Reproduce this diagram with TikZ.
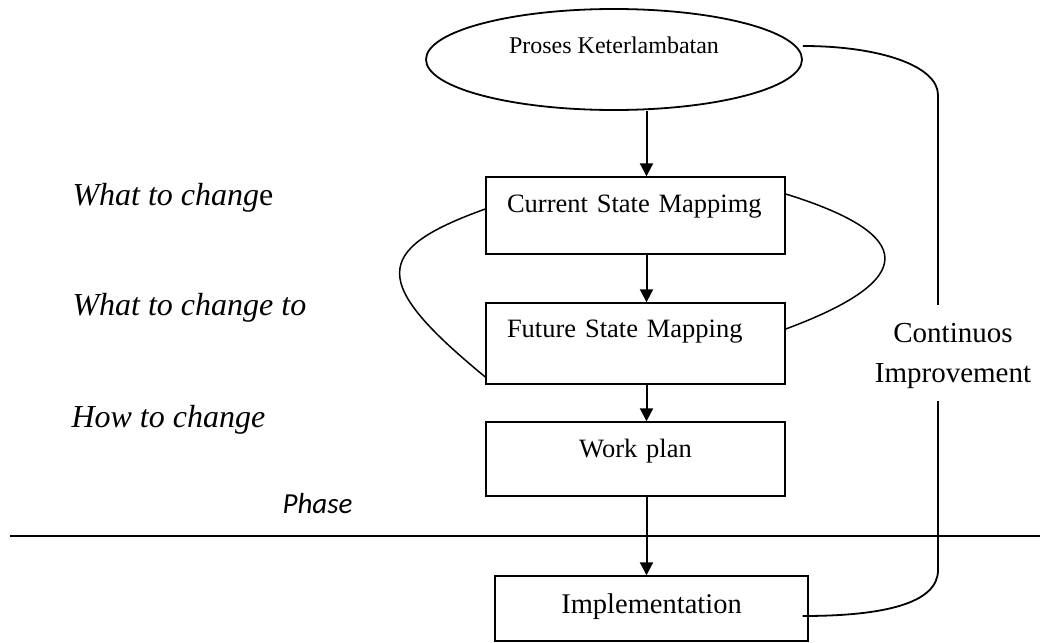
\documentclass[tikz,border=0pt]{standalone}
\usepackage{fontspec}
\setmainfont{Liberation Serif}
\newfontfamily\phasefont{Carlito}
\usetikzlibrary{shapes.geometric,arrows.meta,calc}

\tikzset{
  stage/.style={draw, line width=1.4pt, rectangle, inner ysep=0pt},
  leftstage/.style={stage, inner xsep=21pt, align=left},
  midstage/.style={stage, inner xsep=0pt, align=center},
  flow/.style={line width=2pt, -{Triangle[length=13pt,width=13pt]}},
  loopline/.style={line width=1.5pt},
  cycleline/.style={line width=1.8pt},
  question/.style={anchor=base west, font=\fontsize{32}{36}\selectfont\itshape},
}

\begin{document}
\begin{tikzpicture}[x=1pt, y=-1pt]
  \useasboundingbox (0,0) rectangle (1040,642);

  % start of the process
  \node[draw, ellipse, line width=1.8pt, inner sep=0pt,
        minimum width=376pt, minimum height=101pt,
        text height=20pt, text depth=31pt,
        font=\fontsize{24}{28}\selectfont] (ell) at (614,59.5) {Proses Keterlambatan};

  % mapping stages
  \node[leftstage, text width=257pt, minimum width=299pt, minimum height=77pt,
        text height=35pt, text depth=42pt, font=\fontsize{26.5}{30}\selectfont]
        (cur) at (635.5,215.5) {Current State Mappimg};
  \node[leftstage, text width=257pt, minimum width=299pt, minimum height=81pt,
        text height=34pt, text depth=47pt, font=\fontsize{26.5}{30}\selectfont]
        (fut) at (635.5,343.5) {Future State Mapping};
  \node[midstage, text width=299pt, minimum width=299pt, minimum height=74pt,
        text height=35pt, text depth=39pt, font=\fontsize{26.5}{30}\selectfont]
        (work) at (635.5,459) {Work plan};
  \node[midstage, text width=313pt, minimum width=313pt, minimum height=65pt,
        text height=37pt, text depth=28pt, font=\fontsize{28.5}{32}\selectfont]
        (impl) at (651.5,608.5) {Implementation};

  % questions on the left
  \node[question] (q1) at (69,205) {What to chang\upshape e};
  \node[question] (q2) at (69,315) {What to change to};
  \node[question] (q3) at (68,427) {How to change};

  % phase divider
  \node[anchor=base west, font=\fontsize{29}{33}\selectfont\phasefont\itshape] (ph) at (279,513) {Phase};
  \coordinate (hl) at (10,536);
  \coordinate (hr) at (1040,536);
  \draw[line width=1.8pt] (hl) -- (hr);

  % main flow
  \coordinate (ax) at (646.5,0);
  \draw[flow] (ell.south -| ax) -- (cur.north -| ax);
  \draw[flow] (cur.south -| ax) -- (fut.north -| ax);
  \draw[flow] (fut.south -| ax) -- (work.north -| ax);
  \draw[flow] (work.south -| ax) -- (impl.north -| ax);

  % loops linking current and future state
  \draw[loopline] ([yshift=6.5pt]cur.west) .. controls (371,250) and (371,283) .. ([yshift=-33.5pt]fut.west);
  \draw[loopline] ([yshift=21.5pt]cur.east) .. controls (918,235) and (918,280) .. ([yshift=14.5pt]fut.east);

  % continuous improvement cycle (label sits in a gap of the line)
  \node[align=center, inner sep=0pt, text height=77pt, text depth=19pt,
        font=\fontsize{29}{40}\selectfont] (ci) at (953,353) {Continuos\\Improvement};
  \coordinate (lx) at (938,0);
  \draw[cycleline] ([yshift=13.5pt]ell.east) .. controls (880,46) and (938,66) .. (938,95)
        -- (ci.north -| lx);
  \draw[cycleline] (ci.south -| lx) -- (938,570)
        .. controls (938,603) and (885,616) .. ([xshift=-6pt,yshift=-7.5pt]impl.east);
\end{tikzpicture}
\end{document}
